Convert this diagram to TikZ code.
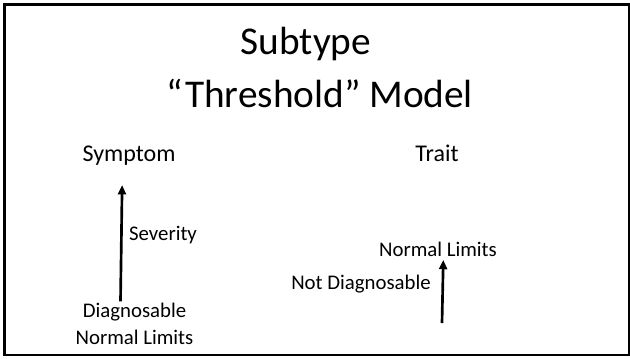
\documentclass[tikz,border=0pt]{standalone}
\usepackage{fontspec}
\setmainfont{Carlito}
\usetikzlibrary{arrows.meta,positioning}

\begin{document}
\begin{tikzpicture}[x=0.75pt,y=-0.75pt]
		\tikzset{title style/.style={font=\fontsize{29.5}{35}\selectfont},
				head style/.style={font=\fontsize{18}{21}\selectfont},
				label style/.style={font=\fontsize{15.6}{19}\selectfont,
				inner sep=1pt},
				axis arrow/.style={line width=2pt,
				-{Triangle[width=6pt,length=7pt]}}}
		\useasboundingbox (0,0) rectangle (630,358);
		
		% Draw the frame
		\draw[line width=1.6pt] (4.5,4.5) rectangle (629,355);
		
		% Draw the title
		\node[title style] at (306,44) (sub) {Subtype};
		\node[title style] at (320,93) (thr) {“Threshold” Model};
		
		% Symptom side
		\node[head style] at (129,156) (sym) {Symptom};
		\node[label style] at (163,235) (sev) {Severity};
		\node[label style] at (134.5,312) (diag) {Diagnosable};
		\node[label style] at (134.5,337) (nl1) {Normal Limits};
		
		% Trait side
		\node[head style] at (437,153) (trait) {Trait};
		\node[label style] at (438,249) (nl2) {Normal Limits};
		\node[label style] at (361,284) (nd) {Not Diagnosable};
		\coordinate (base) at (442,323);
		
		% Connect with arrows
		\draw[axis arrow, shorten >=11pt] ([xshift=-10.5]diag.north) -- ([xshift=-5]sym.south);
		\draw[axis arrow, shorten >=1.5pt] (base) -- ([xshift=4]nl2.south);
		
		\end{tikzpicture}
\end{document}
